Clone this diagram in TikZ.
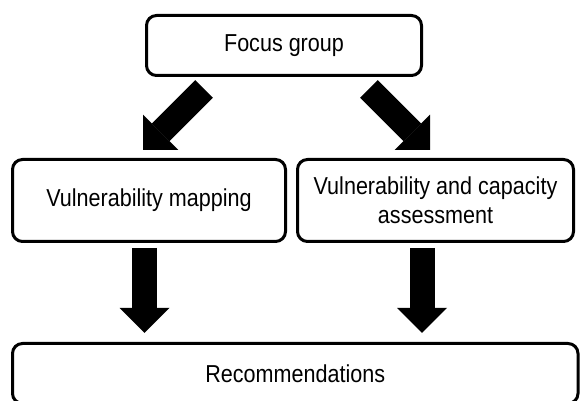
\documentclass[tikz,border=0pt]{standalone}
\usepackage{fontspec}
\setmainfont{Liberation Sans}[FakeStretch=0.88]
\usetikzlibrary{arrows.meta,positioning}

\begin{document}
\begin{tikzpicture}[
			x=1pt,y=1pt,
			box/.style={
				draw,
				line width=3pt,
				rounded corners=10pt,
				align=center,
				font=\fontsize{24.5}{29}\selectfont,
				fill=white
			},
			bigarrow/.style={
				line width=25pt,
				-{Triangle[width=50pt,length=25pt,line width=0pt]}
			}
			]
			\useasboundingbox (0,0) rectangle (582,401);
			
			% Boxes
			\node[box,minimum width=275pt,minimum height=60pt] (focus) at (284,355.5) {Focus group};
			\node[box,minimum width=273pt,minimum height=82pt] (mapping) at (149,200.5) {Vulnerability mapping};
			\node[box,minimum width=276pt,minimum height=82pt,right=9pt of mapping] (assess)
			{Vulnerability and capacity\\assessment};
			\node[box,minimum width=565.5pt,minimum height=60pt,below right=99pt and 0pt of mapping.south west] (recs)
			{Recommendations};
			
			% Arrows out of the focus group
			\draw[bigarrow] ([shift={(-80,-12)}]focus.south) -- ([shift={(-6,8)}]mapping.north);
			\draw[bigarrow] ([shift={(85,-12)}]focus.south) -- ([shift={(-5.5,8)}]assess.north);
			
			% Arrows into the recommendations
			\draw[bigarrow,shorten >=9pt] ([shift={(-4.5,-5)}]mapping.south) coordinate (a) -- (a |- recs.north);
			\draw[bigarrow,shorten >=9pt] ([shift={(-13.5,-5)}]assess.south) coordinate (b) -- (b |- recs.north);
			
		\end{tikzpicture}
\end{document}
